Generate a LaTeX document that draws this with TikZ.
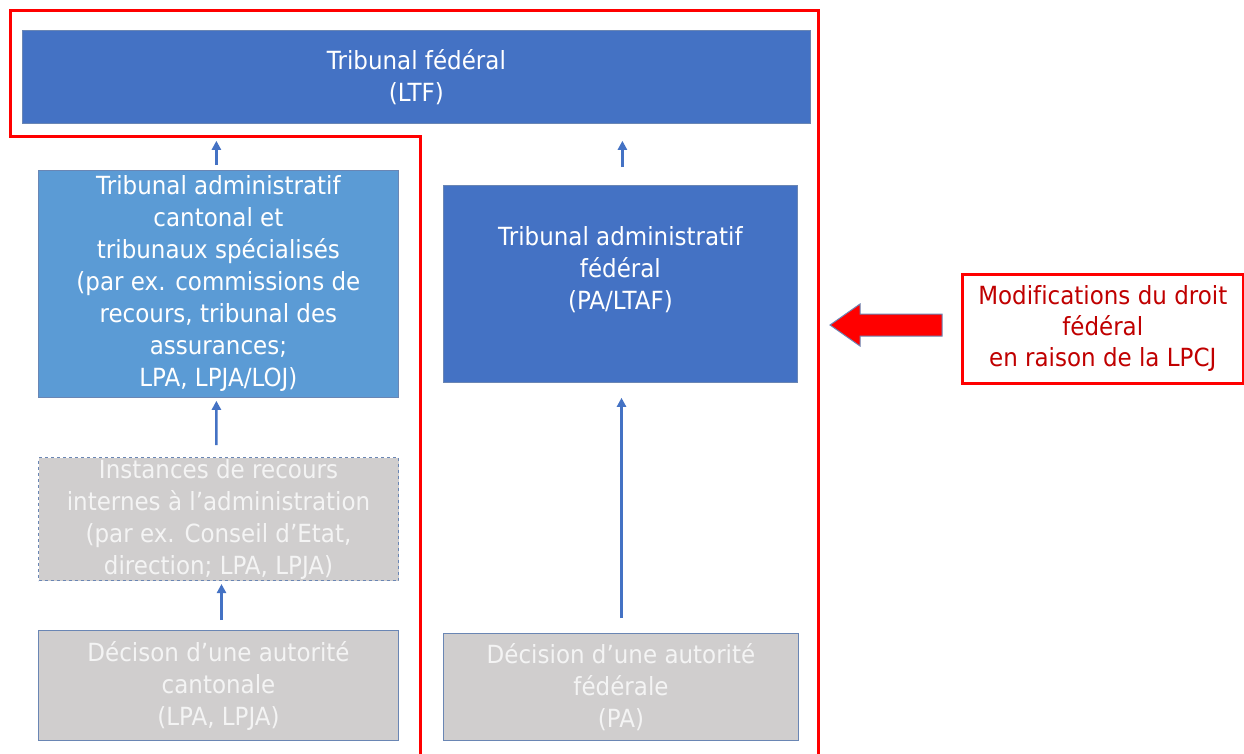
\documentclass[tikz,border=0pt]{standalone}
\usepackage{fontspec}
\setmainfont{DejaVu Sans}[Ligatures=NoCommon,FakeStretch=0.92]
\usetikzlibrary{arrows.meta}
\definecolor{darkblue}{HTML}{4472C4}
\definecolor{lightblue}{HTML}{5B9BD5}
\definecolor{boxgray}{HTML}{D0CECE}
\definecolor{txtgray}{HTML}{F4F4F4}
\definecolor{edgeblue}{HTML}{6A86B4}
\definecolor{darkred}{HTML}{C00000}
\definecolor{framered}{HTML}{FF0000}
\tikzset{
  basebox/.style={rectangle, inner sep=0pt, align=center, font=\fontsize{25}{32}\selectfont, anchor=north west},
  bluebox/.style={basebox, fill=darkblue, draw=edgeblue, line width=0.8pt, text=white},
  lbluebox/.style={basebox, fill=lightblue, draw=edgeblue, line width=0.8pt, text=white},
  graybox/.style={basebox, fill=boxgray, draw=edgeblue, line width=1pt, text=txtgray},
  dgraybox/.style={graybox, dashed},
  boxtext/.style={align=center, inner sep=0pt, text=white, font=\fontsize{25}{32}\selectfont},
  uparrow/.style={darkblue, line width=2.5pt, -{Triangle[length=9pt,width=9pt]}},
  notebox/.style={basebox, draw=framered, line width=2.5pt, text=darkred, fill=white},
}
\begin{document}
\begin{tikzpicture}[x=1pt,y=-1pt]
\useasboundingbox (0,0) rectangle (1244,753);
\fill[white] (0,0) rectangle (1244,753);
% boxes
\node[bluebox, minimum width=788pt, minimum height=93pt] (tf) at (22,30) {Tribunal fédéral\\(LTF)};
\node[lbluebox, minimum width=360pt, minimum height=227pt] (tac) at (38,170) {Tribunal administratif\\cantonal et\\tribunaux spécialisés\\(par ex. commissions de\\recours, tribunal des\\assurances;\\LPA, LPJA/LOJ)};
\node[bluebox, minimum width=354pt, minimum height=197pt] (taf) at (443,185) {};
\node[boxtext] (taftext) at ([yshift=14pt]taf.center) {Tribunal administratif\\fédéral\\(PA/LTAF)};
\node[dgraybox, minimum width=360pt, minimum height=123pt] (irec) at (38,457) {Instances de recours\\internes à l’administration\\(par ex. Conseil d’Etat,\\direction; LPA, LPJA)};
\node[graybox, minimum width=360pt, minimum height=110pt] (dcan) at (38,630) {Décison d’une autorité\\cantonale\\(LPA, LPJA)};
\node[graybox, minimum width=355pt, minimum height=107pt] (dfed) at (443,633) {Décision d’une autorité\\fédérale\\(PA)};
\node[notebox, minimum width=281pt, minimum height=109pt, font=\fontsize{25}{31}\selectfont] (note) at (961,273) {Modifications du droit\\fédéral\\en raison de la LPCJ};
% red frame
\draw[framered, line width=3pt, line join=miter] (420,760) -- (420,136) -- (10,136) -- (10,10) -- (818,10) -- (818,760);
% arrows
\draw[uparrow, shorten <=5pt, shorten >=17pt] ([xshift=-2pt]tac.north) -- ([xshift=-2pt]tac.north |- tf.south);
\draw[uparrow, shorten <=18pt, shorten >=17pt] ([xshift=2pt]taf.north) -- ([xshift=2pt]taf.north |- tf.south);
\draw[uparrow, shorten <=12pt, shorten >=3pt] ([xshift=-2pt]irec.north) -- ([xshift=-2pt]tac.south);
\draw[uparrow, shorten <=10pt, shorten >=3pt] ([xshift=3pt]dcan.north) -- ([xshift=3pt]irec.south);
\draw[uparrow, shorten <=15pt, shorten >=15pt] ([xshift=0.5pt]dfed.north) -- ([xshift=0.5pt]dfed.north |- taf.south);
% red block arrow
\draw[fill=framered, draw=edgeblue, line width=1pt, line join=miter]
  (830,325) -- (860,304) -- (860,314) -- (942,314) -- (942,336) -- (860,336) -- (860,346) -- cycle;
\end{tikzpicture}
\end{document}
